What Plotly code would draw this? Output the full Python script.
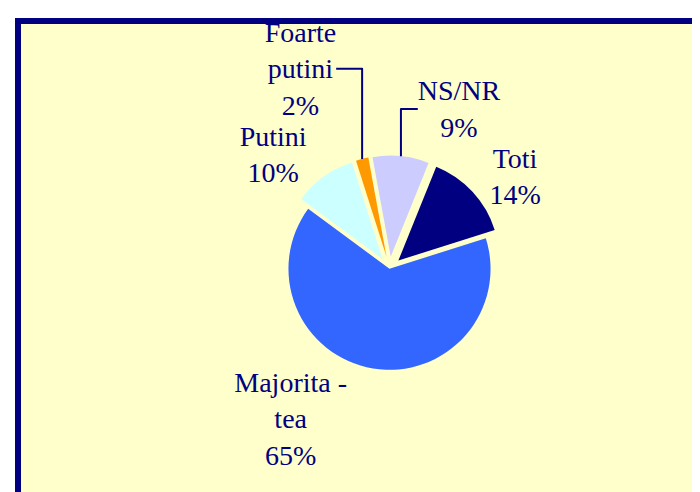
import plotly.graph_objects as go

labels = ["Toti", "Majorita -<br>tea", "Putini", "Foarte<br>putini", "NS/NR"]
values = [14, 65, 10, 2, 9]
colors = ["#000080", "#3366FF", "#CCFFFF", "#FF9900", "#CCCCFF"]
pulls = [0.12, 0, 0.12, 0.12, 0.12]

fig = go.Figure(go.Pie(
    labels=labels,
    values=values,
    sort=False,
    direction="clockwise",
    rotation=22,
    pull=pulls,
    marker=dict(colors=colors, line=dict(width=0)),
    texttemplate="%{label}<br>%{percent:.0%}",
    textposition="outside",
    outsidetextfont=dict(family="Liberation Serif", size=28, color="#000080"),
    showlegend=False,
    automargin=False,
    domain=dict(x=[0.375, 0.715], y=[0.24, 0.70]),
    hoverinfo="skip",
))

fig.update_layout(
    width=700, height=492,
    margin=dict(l=0, r=0, t=0, b=0, autoexpand=False),
    paper_bgcolor="white",
    plot_bgcolor="white",
    font=dict(family="Liberation Serif", color="#000080"),
    shapes=[dict(
        type="rect", xref="paper", yref="paper",
        x0=10 / 700, x1=1.05, y0=-0.05, y1=1 - 13 / 492,
        fillcolor="#FFFFCC", line=dict(color="#000080", width=6),
        layer="below",
    )],
)

fig.write_html("out.html")
